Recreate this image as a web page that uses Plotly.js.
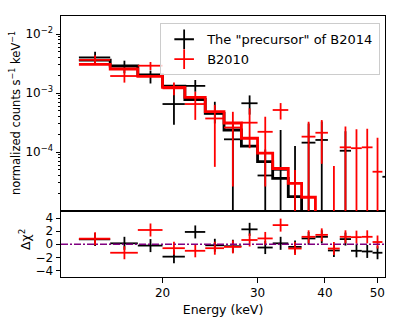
<!DOCTYPE html>
<html><head><meta charset="utf-8">
<script src="https://cdn.plot.ly/plotly-3.0.1.min.js"></script>
<style>html,body{margin:0;padding:0;background:#fff}</style>
</head><body><div id="chart" style="width:407px;height:326px"></div>
<script>
// Energy bin edges (keV)
const binEdges = [14,16,18,20,22,24,26,28,30,32,34.2,36.2,38.4,40.5,42.6,44.7,46.8,49.0,51.1,53.3];
const seriesNames = ['The "precursor" of B2014', 'B2010'];

// Folded model (counts s^-1 keV^-1)
const modelPrecursor = [3.62e-3,2.87e-3,2.02e-3,1.31e-3,7.76e-4,4.50e-4,2.36e-4,1.26e-4,6.85e-5,3.58e-5,1.75e-5,8.5e-6,5.0e-6,3.0e-6,1.8e-6,1.1e-6,7e-7,4e-7,2.5e-7];
const modelB2010     = [3.06e-3,2.55e-3,1.92e-3,1.25e-3,8.45e-4,4.85e-4,3.10e-4,1.71e-4,9.6e-5,5.25e-5,2.94e-5,1.71e-5,9e-6,5.5e-6,3.3e-6,2e-6,1.2e-6,7.5e-7,4.5e-7];

// Data (counts s^-1 keV^-1) with upper / lower errors
const ratePrecursor  = [4.0e-3,2.87e-3,1.95e-3,6.5e-4,1.32e-3,4.5e-4,1.64e-4,6.7e-4,4e-5,5e-5,-5.5e-5,1.44e-4,1.6e-4,-3e-5,1.05e-4,-4e-5,-4e-5,-5e-5,3.8e-5];
const errUpPrecursor = [1.0e-3,6.6e-4,4.5e-4,7.2e-4,3.4e-4,2.6e-4,1.42e-4,2.4e-4,7e-5,1.86e-4,1.81e-4,1.6e-4,1.7e-4,3.5e-5,1.2e-4,4.5e-5,4.5e-5,5.5e-5,1.5e-4];
const errDnPrecursor = [1.0e-3,7.1e-4,5.0e-4,3.6e-4,2.7e-4,1.45e-4,1.7e-4,2.4e-4,7e-5,1.86e-4,1.81e-4,1.6e-4,1.7e-4,3.5e-5,1.2e-4,4.5e-5,4.5e-5,5.5e-5,1.5e-4];

const rateB2010  = [3.63e-3,1.94e-3,2.9e-3,1.2e-3,6.5e-4,3.7e-4,2.6e-4,3.14e-4,2.2e-4,5.15e-4,-1.7e-5,1.82e-4,2.12e-4,-2e-5,1.2e-4,1.16e-4,1.2e-4,4.63e-5,null];
const errUpB2010 = [7.5e-4,5.2e-4,4.5e-4,3.0e-4,4.0e-4,2.6e-4,2.2e-4,2.36e-4,1.76e-4,1.6e-4,6.65e-5,1.45e-4,1.36e-4,7.8e-5,1.5e-4,1.27e-4,1.28e-4,1.28e-4,null];
const errDnB2010 = [6.4e-4,4.4e-4,4.5e-4,2.8e-4,3.0e-4,3.14e-4,2.34e-4,1.98e-4,1.94e-4,1.6e-4,6.65e-5,1.85e-4,1.49e-4,7.8e-5,1.5e-4,1.3e-4,1.3e-4,1.28e-4,null];

// Residuals
const delchiPrecursor = [0.75,0.15,-0.2,-1.9,1.9,-0.15,-0.3,2.3,-0.5,0.15,-0.4,0.9,1.15,-0.95,0.8,-1.0,-1.1,-1.3,null];
const delchiB2010     = [0.85,-1.3,2.2,-0.6,-1.0,-0.6,-0.4,0.66,0.9,2.95,-0.65,1.15,1.45,-0.65,1.15,1.1,1.15,0.35,null];

// Tick labels
const xTicks = [20,30,40,50];
const resTicks = [-4,-2,0,2,4];
const logMajorTicks = [1e-4,1e-3,1e-2];
const logMajorText = ['10<sup>−4</sup>','10<sup>−3</sup>','10<sup>−2</sup>'];
const logMinorTicks = [2e-5,3e-5,4e-5,5e-5,6e-5,7e-5,8e-5,9e-5,2e-4,3e-4,4e-4,5e-4,6e-4,7e-4,8e-4,9e-4,2e-3,3e-3,4e-3,5e-3,6e-3,7e-3,8e-3,9e-3];

const FONT = 'DejaVu Sans, sans-serif';
const centers = binEdges.slice(0,-1).map((e,i)=>(e+binEdges[i+1])/2);
const hiW = centers.map((c,i)=>binEdges[i+1]-c);
const loW = centers.map((c,i)=>c-binEdges[i]);

function dataTrace(rate, up, dn, color){
  const yPlot = rate.map(v => v==null ? null : (v>0 ? v : 1e-9));
  return {
    type:'scatter', mode:'markers', xaxis:'x2', yaxis:'y2', showlegend:false, hoverinfo:'skip',
    x: centers, y: yPlot, marker:{size:1, opacity:0, color:color},
    error_x:{type:'data', symmetric:false, color:color, thickness:1.8, width:0,
      array: rate.map((v,i)=> v>0 ? hiW[i] : 0), arrayminus: rate.map((v,i)=> v>0 ? loW[i] : 0)},
    error_y:{type:'data', symmetric:false, color:color, thickness:1.8, width:0,
      array: rate.map((v,i)=> v==null ? 0 : (v+up[i]) - yPlot[i]),
      arrayminus: rate.map((v,i)=> v==null ? 0 : (v>0 ? dn[i] : 1))}
  };
}
function modelTrace(model, color){
  return {type:'scatter', mode:'lines', xaxis:'x2', yaxis:'y2', showlegend:false, hoverinfo:'skip',
    x: binEdges, y: model.concat([model[model.length-1]]), line:{shape:'hv', color:color, width:2.8}};
}
function resTrace(res, color){
  return {type:'scatter', mode:'markers', xaxis:'x', yaxis:'y', showlegend:false, hoverinfo:'skip',
    x: centers, y: res, marker:{size:1, opacity:0, color:color},
    error_x:{type:'data', symmetric:false, array:hiW, arrayminus:loW, color:color, thickness:1.8, width:0},
    error_y:{type:'constant', value:1, color:color, thickness:1.8, width:0}};
}
function legendTrace(name, color){
  return {type:'scatter', mode:'markers', xaxis:'x2', yaxis:'y2', name:name, x:[null], y:[null],
    marker:{symbol:'cross-thin-open', size:14, color:color, line:{color:color, width:1.8}}};
}

const traces = [
  dataTrace(ratePrecursor, errUpPrecursor, errDnPrecursor, '#000000'),
  modelTrace(modelPrecursor, '#000000'),
  dataTrace(rateB2010, errUpB2010, errDnB2010, '#ff0000'),
  modelTrace(modelB2010, '#ff0000'),
  resTrace(delchiPrecursor, '#000000'),
  resTrace(delchiB2010, '#ff0000'),
  legendTrace(seriesNames[0], '#000000'),
  legendTrace(seriesNames[1], '#ff0000'),
  // carrier for the minor-tick overlay axis
  {type:'scatter', mode:'markers', xaxis:'x2', yaxis:'y3', x:[null], y:[null], showlegend:false, hoverinfo:'skip'}
];

const split = 66/261;
const topRange = [-5.0, -1.695];
const axBase = {showline:true, linecolor:'#000', linewidth:1, mirror:true, showgrid:false, zeroline:false,
  tickcolor:'#000', tickwidth:1, tickfont:{family:FONT, size:12, color:'#000'}};

const layout = {
  width:407, height:326, paper_bgcolor:'#fff', plot_bgcolor:'#fff',
  margin:{l:61, r:22, t:16, b:49},
  font:{family:FONT, size:12, color:'#000'},
  showlegend:true,
  legend:{x:0.985, xanchor:'right', y:0.972, yanchor:'top', bgcolor:'rgba(255,255,255,0.8)',
    bordercolor:'#cccccc', borderwidth:1, itemwidth:36, font:{family:FONT, size:13, color:'#000'}},
  xaxis: Object.assign({}, axBase, {type:'log', range:[Math.log10(12.97), Math.log10(51.67)], anchor:'y',
    domain:[0,1], tickvals:xTicks, ticktext:xTicks.map(String), ticks:'outside', ticklen:4.5,
    title:{text:'Energy (keV)', font:{family:FONT, size:12.5}, standoff:6}}),
  yaxis: Object.assign({}, axBase, {range:[-5.03, 5.12], domain:[0, split], anchor:'x',
    tickvals:resTicks, ticks:'outside', ticklen:4.5}),
  xaxis2: Object.assign({}, axBase, {type:'log', matches:'x', anchor:'y2', domain:[0,1], showticklabels:false, ticks:''}),
  yaxis2: Object.assign({}, axBase, {type:'log', range:topRange, domain:[split,1], anchor:'x2',
    tickvals:logMajorTicks, ticktext:logMajorText, ticks:'outside', ticklen:4.5}),
  yaxis3: {type:'log', range:topRange, overlaying:'y2', anchor:'x2', side:'left', showline:false, showgrid:false,
    zeroline:false, tickvals:logMinorTicks, showticklabels:false, ticks:'outside', ticklen:2.5, tickcolor:'#000', tickwidth:1},
  shapes:[{type:'line', xref:'x domain', x0:0, x1:1, yref:'y', y0:0, y1:0,
    line:{color:'#800080', width:1.5, dash:'7px,2px,2px,2px'}}],
  annotations:[
    {text:'normalized counts s<sup>−1</sup> keV<sup>−1</sup>', xref:'paper', yref:'paper', x:-0.142, y:0.628,
      xanchor:'center', yanchor:'middle', textangle:-90, showarrow:false, font:{family:FONT, size:11.5, color:'#000'}},
    {text:'Δχ<sup>2</sup>', xref:'paper', yref:'paper', x:-0.111, y:0.142,
      xanchor:'center', yanchor:'middle', textangle:-90, showarrow:false, font:{family:FONT, size:12.5, color:'#000'}}
  ]
};

Plotly.newPlot('chart', traces, layout, {staticPlot:true, displayModeBar:false});
</script>
</body></html>
